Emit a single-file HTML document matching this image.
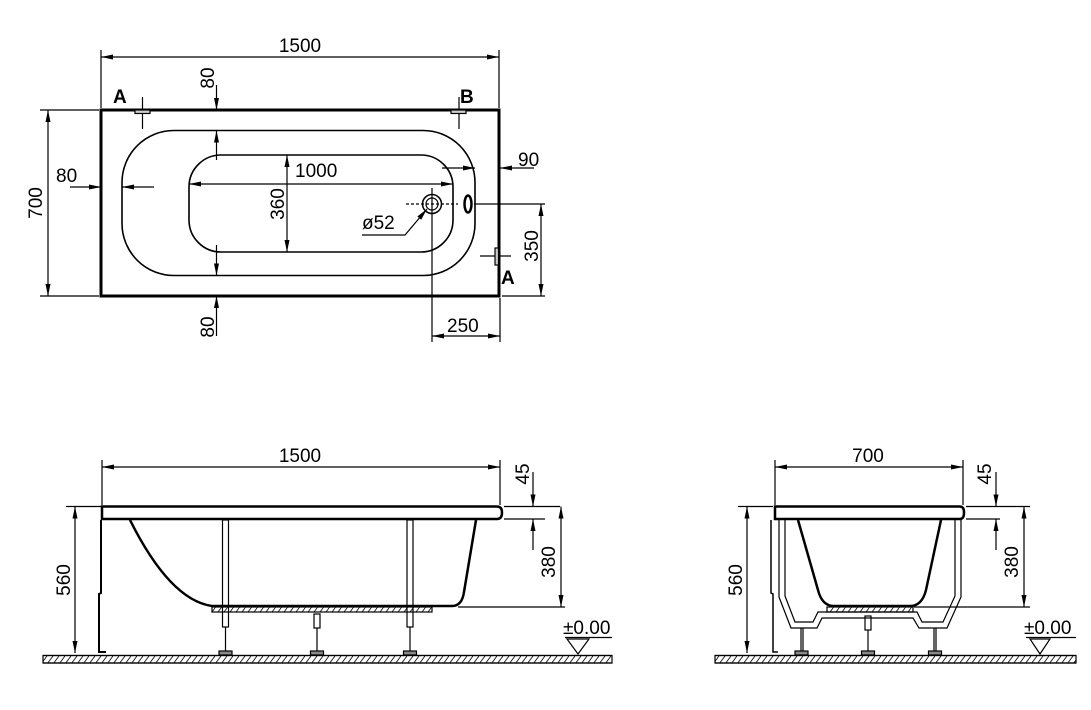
<!DOCTYPE html>
<html><head><meta charset="utf-8"><style>
html,body{margin:0;padding:0;background:#fff;}
svg{display:block;}
text{font-family:"Liberation Sans",sans-serif;font-size:19px;fill:#000;}
</style></head><body>
<svg width="1091" height="710" viewBox="0 0 1091 710" xmlns="http://www.w3.org/2000/svg">
<defs>
<marker id="a" viewBox="0 0 12 6" refX="12" refY="3" markerWidth="12" markerHeight="6" markerUnits="userSpaceOnUse" orient="auto-start-reverse"><path d="M0,0.5 L12,3 L0,5.5z" fill="#000"/></marker>
<pattern id="h" width="6" height="8" patternUnits="userSpaceOnUse"><rect width="6" height="8" fill="#fff"/><path d="M-1,8 L5,0 M5,8 L11,0" stroke="#000" stroke-width="0.8"/></pattern>
</defs>
<g fill="none" stroke="#000" stroke-width="1.2">
<!-- TOP VIEW -->
<rect x="101" y="110" width="398" height="186" stroke-width="3"/>
<rect x="122" y="130.5" width="353" height="145" rx="52" ry="52" stroke-width="1.6"/>
<rect x="189" y="155" width="264" height="97" rx="32" ry="32" stroke-width="1.6"/>
<circle cx="432" cy="204" r="9.5" stroke-width="1.5"/><circle cx="432" cy="204" r="6" stroke-width="1.2"/>
<ellipse cx="468" cy="204" rx="3.5" ry="8.5" stroke-width="2.5"/>
<path d="M406,204 H458" stroke-dasharray="3,2"/>
<path d="M432,188 V342"/>
<path d="M474,204 H545"/>
<path d="M101,50 V108 M499,50 V108"/>
<path d="M101,57 H499" marker-start="url(#a)" marker-end="url(#a)"/>
<path d="M40,110 H99 M40,296 H99"/>
<path d="M48,110 V296" marker-start="url(#a)" marker-end="url(#a)"/>
<path d="M70,187 H101" marker-end="url(#a)"/>
<path d="M154,187 H122" marker-end="url(#a)"/>
<path d="M216.5,85 V110" marker-end="url(#a)"/>
<path d="M216.5,160 V130.5" marker-end="url(#a)"/>
<path d="M216.5,245 V275.5" marker-end="url(#a)"/>
<path d="M216.5,336 V296" marker-end="url(#a)"/>
<path d="M189,184 H453" marker-start="url(#a)" marker-end="url(#a)"/>
<path d="M287,155 V252" marker-start="url(#a)" marker-end="url(#a)"/>
<path d="M442,168 H475" marker-end="url(#a)"/>
<path d="M534,168 H500" marker-end="url(#a)"/>
<path d="M541,204 V296" marker-start="url(#a)" marker-end="url(#a)"/>
<path d="M502,296 H545"/>
<path d="M500,298 V342"/>
<path d="M432,336 H500" marker-start="url(#a)" marker-end="url(#a)"/>
<path d="M362,235 H405 L427,209" marker-end="url(#a)"/>
<path d="M142.5,97 V129"/><rect x="135" y="110" width="15" height="3.5" fill="#ccc"/>
<path d="M459,97 V129"/><rect x="451" y="110" width="15" height="3.5" fill="#ccc"/>
<path d="M480,256 H511"/><rect x="495" y="248" width="3.5" height="17" fill="#ccc"/>

<!-- SIDE VIEW -->
<path d="M102,460 V505 M500,460 V505"/>
<path d="M102,467 H500" marker-start="url(#a)" marker-end="url(#a)"/>
<path d="M102,506.5 H497 Q502,506.5 502,512.5 Q502,519 497,519 H102 Z" stroke-width="2.5"/>
<path d="M101,520 V593 L99,594 V652 H106" stroke-width="2"/>
<path d="M130,520 Q170,600 212,606 H452 Q462,606 464,592 L476,520" stroke-width="2.5"/>
<rect x="212" y="607" width="220" height="5" fill="url(#h)"/>
<rect x="222.5" y="520" width="6" height="107"/><path d="M225.5,627 V651"/><rect x="219" y="651" width="13" height="4" fill="#888"/>
<rect x="407" y="520" width="6" height="107"/><path d="M410,627 V651"/><rect x="403.5" y="651" width="13" height="4" fill="#888"/>
<rect x="314" y="614" width="6" height="14"/><path d="M317,628 V651"/><rect x="310.5" y="651" width="13" height="4" fill="#888"/>
<rect x="43" y="655.5" width="569" height="7.5" fill="url(#h)"/>
<path d="M43,655.5 H612 M43,663 H612"/>
<path d="M504,506.5 H560 M504,519 H545 M458,607 H565 M66,506.5 H101"/>
<path d="M533,472 V506.5" marker-end="url(#a)"/>
<path d="M533,550 V519" marker-end="url(#a)"/>
<path d="M561,506.5 V607" marker-start="url(#a)" marker-end="url(#a)"/>
<path d="M75,506.5 V653" marker-start="url(#a)" marker-end="url(#a)"/>
<path d="M565,637.5 H612"/>
<path d="M567,639 H589 L578,654 Z"/>

<!-- END VIEW -->
<path d="M775,460 V505 M963,460 V505"/>
<path d="M775,467 H963" marker-start="url(#a)" marker-end="url(#a)"/>
<path d="M775,506.5 H960 Q964,506.5 964,512.5 Q964,519 960,519 H775 Z" stroke-width="2.5"/>
<path d="M771,520 V593 L773,594 V652 H778" stroke-width="1.5"/>
<path d="M798,520 L818,590 Q822,606 834,606 H910 Q922,606 926,590 L941,520" stroke-width="2.5"/>
<rect x="827" y="607" width="86" height="5" fill="url(#h)"/>
<path d="M779,520 V597 L791,628 H817 L822,618 H913 L919,628 H947 L961,597 V520" stroke-width="1.2"/>
<path d="M785,520 V596 L795,622 H813 L818,612 H917 L922,622 H943 L955,596 V520" stroke-width="1.2"/>
<path d="M801,628 V651 M803,628 V651 M934,628 V651 M936,628 V651"/>
<rect x="865" y="616" width="6" height="14"/><path d="M868,630 V651"/>
<rect x="795" y="651" width="13" height="4" fill="#888"/><rect x="861.5" y="651" width="13" height="4" fill="#888"/><rect x="928.5" y="651" width="13" height="4" fill="#888"/>
<rect x="715" y="655.5" width="361" height="7.5" fill="url(#h)"/>
<path d="M715,655.5 H1076 M715,663 H1076"/>
<path d="M966,506.5 H1030 M966,519 H1000 M914,607 H1030 M738,506.5 H773"/>
<path d="M996,472 V506.5" marker-end="url(#a)"/>
<path d="M996,550 V519" marker-end="url(#a)"/>
<path d="M1024,506.5 V607" marker-start="url(#a)" marker-end="url(#a)"/>
<path d="M747,506.5 V653" marker-start="url(#a)" marker-end="url(#a)"/>
<path d="M1026,637.5 H1076"/>
<path d="M1030,639 H1050 L1040,654 Z"/>
</g>
<g>
<text x="300" y="52" text-anchor="middle">1500</text>
<text x="113" y="103" font-size="25" font-weight="bold">A</text>
<text x="460" y="103" font-size="25" font-weight="bold">B</text>
<text x="501" y="284" font-size="25" font-weight="bold">A</text>
<text x="56" y="182">80</text>
<text x="295" y="177">1000</text>
<text x="518" y="166">90</text>
<text x="362" y="229">ø52</text>
<text x="447" y="332">250</text>
<text transform="translate(42,203) rotate(-90)" text-anchor="middle">700</text>
<text transform="translate(214,78) rotate(-90)" text-anchor="middle">80</text>
<text transform="translate(214,327) rotate(-90)" text-anchor="middle">80</text>
<text transform="translate(284,204) rotate(-90)" text-anchor="middle">360</text>
<text transform="translate(538,246) rotate(-90)" text-anchor="middle">350</text>

<text x="300" y="462" text-anchor="middle">1500</text>
<text transform="translate(529,474) rotate(-90)" text-anchor="middle">45</text>
<text transform="translate(555,562) rotate(-90)" text-anchor="middle">380</text>
<text transform="translate(70,580) rotate(-90)" text-anchor="middle">560</text>
<text x="563" y="634" font-size="16">±0.00</text>

<text x="868" y="462" text-anchor="middle">700</text>
<text transform="translate(991,474) rotate(-90)" text-anchor="middle">45</text>
<text transform="translate(1018,562) rotate(-90)" text-anchor="middle">380</text>
<text transform="translate(742,580) rotate(-90)" text-anchor="middle">560</text>
<text x="1024" y="634" font-size="16">±0.00</text>
</g>
</svg>
</body></html>
